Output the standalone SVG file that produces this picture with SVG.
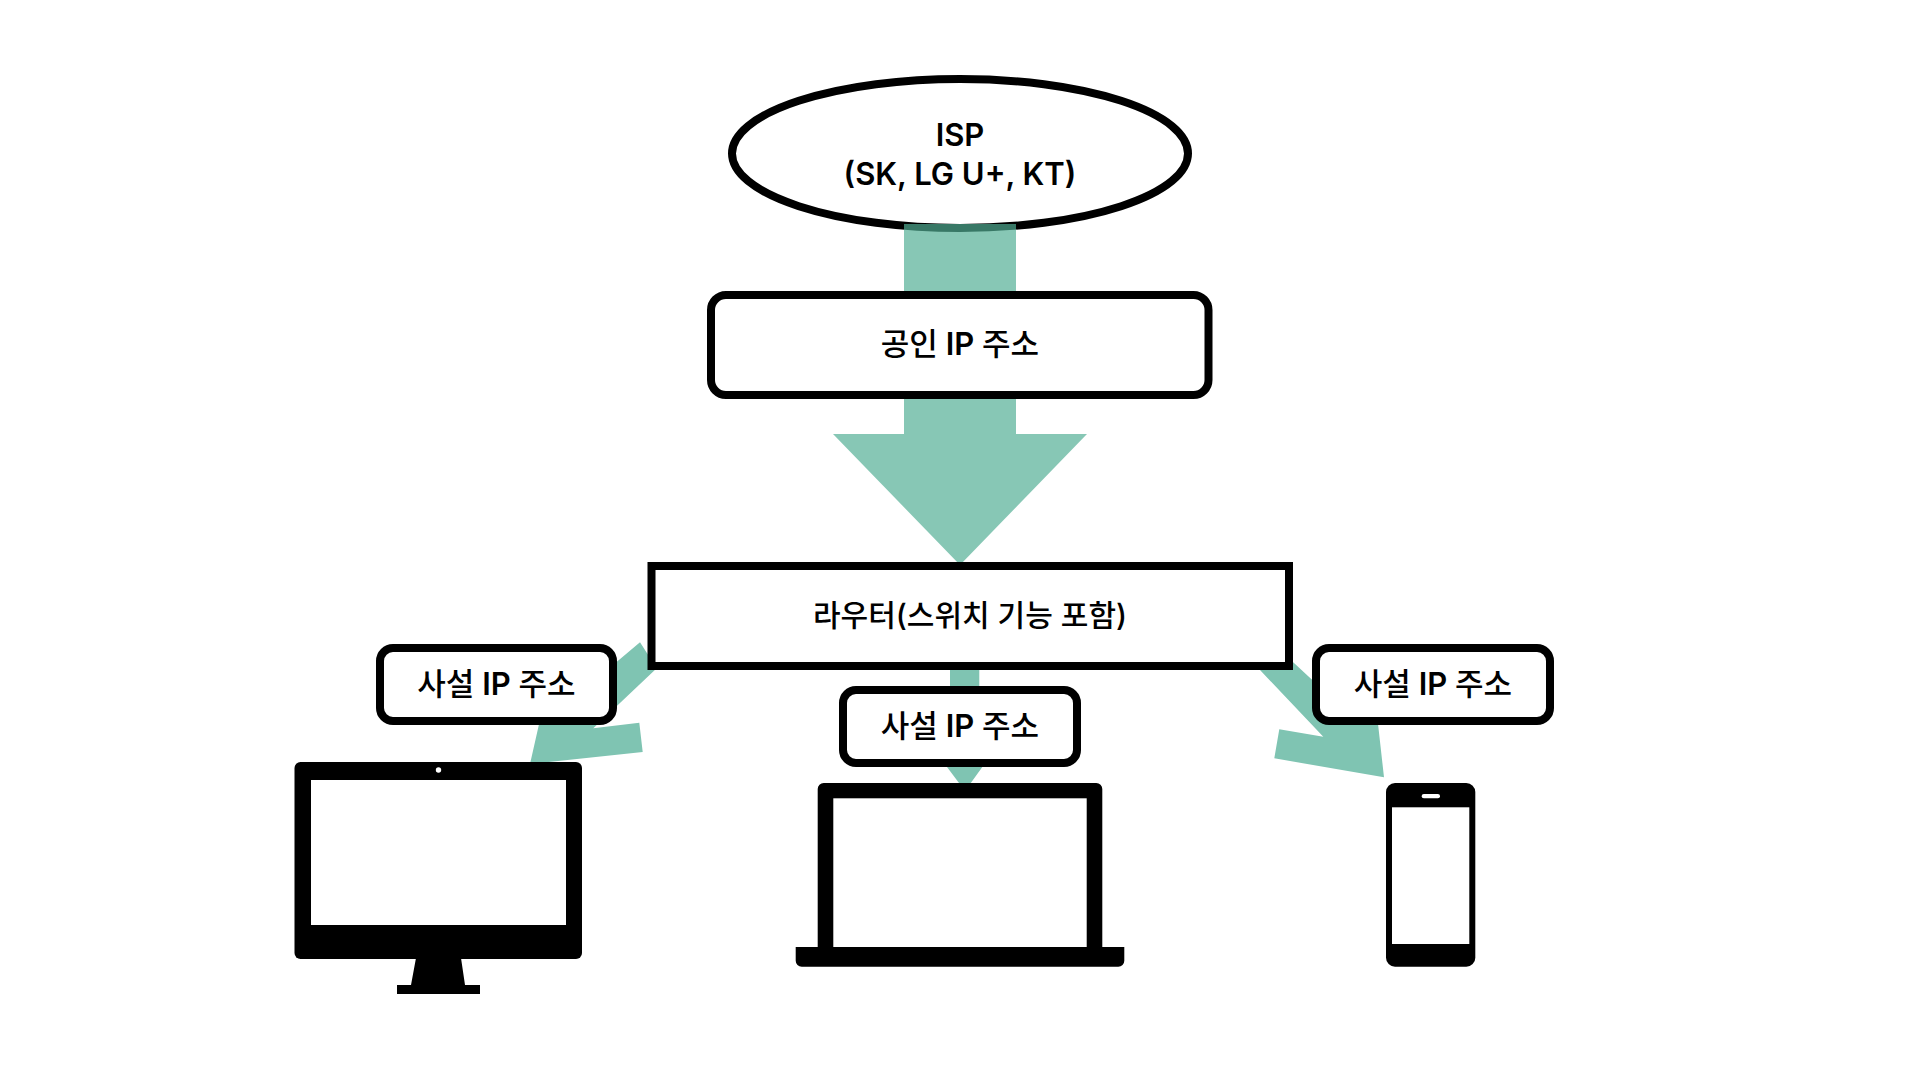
<svg xmlns="http://www.w3.org/2000/svg" width="1920" height="1080" viewBox="0 0 1920 1080">
<style>
.box{fill:#fff;stroke:#000;stroke-width:8}
.t{font-family:"Inter","Noto Sans CJK KR",sans-serif;font-weight:600;font-size:31px;text-anchor:middle;fill:#000}
.k{font-weight:500}
.arrowTop{fill:#51AE94;fill-opacity:.69}
.arrowLow{fill:#7FC4B2}
.ic{fill:#000}
.sc{fill:#fff}
</style>
<rect width="1920" height="1080" fill="#fff"/>
<g id="isp">
<ellipse class="box" cx="960" cy="153.5" rx="228" ry="74.5"/>
<text class="t" x="960" y="146">ISP</text>
<text class="t" x="960" y="185">(SK, LG U+, KT)</text>
</g>
<g id="connectors">
<polygon class="arrowTop" points="904,224 1016,224 1016,434 1087,434 960,565 833,434 904,434"/>
<polygon class="arrowLow" points="640,642.3 656.7,668.3 593.3,728.3 639.3,722.7 642.7,752 530,764 549,680 613,665"/>
<polygon class="arrowLow" points="950,660 979.3,660 979.3,755 991,755 965,791 938,755 950,755"/>
<polygon class="arrowLow" points="1260,670 1323.3,736.7 1279.3,729.3 1274.3,758.3 1384,777.3 1372,670 1312.3,680 1280,650"/>
</g>
<g id="public-ip">
<rect class="box" x="711" y="295" width="497.500" height="100" rx="15"/>
<text class="t" x="960" y="355"><tspan class="k">공인</tspan> IP <tspan class="k">주소</tspan></text>
</g>
<g id="router">
<rect class="box" x="651.500" y="566" width="637.500" height="100"/>
<text class="t k" style="font-size:30px" x="970" y="626">라우터(스위치 기능 포함)</text>
</g>
<g id="private-ip-left">
<rect class="box" x="380" y="648" width="233" height="73" rx="13"/>
<text class="t" x="496.500" y="694.500"><tspan class="k">사설</tspan> IP <tspan class="k">주소</tspan></text>
</g>
<g id="private-ip-center">
<rect class="box" x="843" y="690" width="234" height="73" rx="13"/>
<text class="t" x="960" y="736.500"><tspan class="k">사설</tspan> IP <tspan class="k">주소</tspan></text>
</g>
<g id="private-ip-right">
<rect class="box" x="1316" y="648" width="234" height="73" rx="13"/>
<text class="t" x="1433" y="694.500"><tspan class="k">사설</tspan> IP <tspan class="k">주소</tspan></text>
</g>
<g id="desktop">
<rect class="ic" x="294.500" y="762" width="287.500" height="197" rx="6"/>
<rect class="sc" x="311" y="780" width="255" height="145"/>
<circle class="sc" cx="438.500" cy="770" r="2.700"/>
<polygon class="ic" points="416,958 461,958 465,985 480,985 480,994 397,994 397,985 411,985"/>
</g>
<g id="laptop">
<path class="ic" d="M823.700 783H1096.300a6 6 0 0 1 6 6V947H1124.300V960.700a6 6 0 0 1-6 6H801.700a6 6 0 0 1-6-6V947H817.700V789a6 6 0 0 1 6-6Z"/>
<rect class="sc" x="833.300" y="798.300" width="253.400" height="148.700"/>
</g>
<g id="phone">
<rect class="ic" x="1386" y="783" width="89.300" height="183.700" rx="9"/>
<rect class="sc" x="1392" y="807.300" width="77.300" height="136.700"/>
<rect class="sc" x="1421.700" y="794" width="18.300" height="4.300" rx="2.100"/>
</g>
</svg>
